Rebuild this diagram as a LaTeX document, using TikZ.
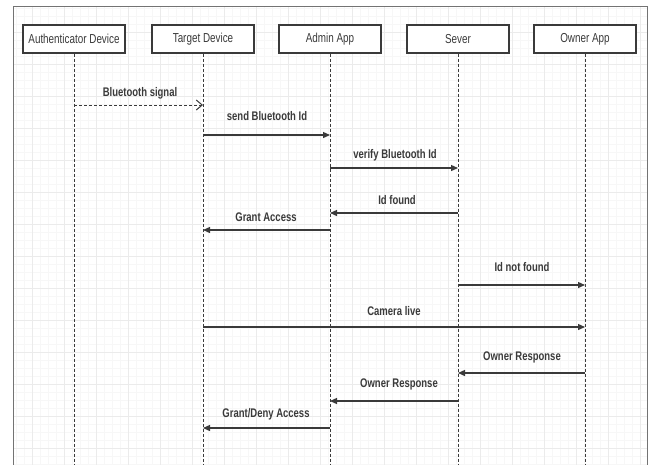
\documentclass[tikz,border=0pt]{standalone}
\usepackage{fontspec}
\setmainfont{Liberation Sans}
\newfontfamily\narrowfont[FakeStretch=0.76]{Liberation Sans}
\usetikzlibrary{arrows.meta}
\definecolor{ink}{HTML}{3A3A3A}
\tikzset{
  x=1pt, y=-1pt,
  header/.style={draw=ink, line width=1.4pt, fill=white, minimum width=102pt, minimum height=28pt,
     font=\narrowfont\fontsize{13}{15}\selectfont, text=ink, inner sep=0pt},
  lifeline/.style={draw=ink, dashed, dash pattern=on 3pt off 2pt, line width=0.8pt},
  msg/.style={draw=ink, line width=1.3pt, -{Triangle[length=7pt,width=6pt]}},
  dmsg/.style={draw=ink, line width=1pt, dash pattern=on 3pt off 2pt, -{Straight Barb[length=6pt,width=10pt,line width=1pt]}},
  lbl/.style={font=\narrowfont\bfseries\fontsize{12.5}{14}\selectfont, text=ink, inner sep=0pt},
}
\begin{document}
\begin{tikzpicture}
\useasboundingbox (0,0) rectangle (648,464);
\fill[white] (0,0) rectangle (648,464);
% grid
\begin{scope}
\clip (13,6) rectangle (647,470);
\draw[black!3, line width=0.5pt, step=8pt] (13,-10) grid (660,480);
\draw[black!8, line width=0.6pt, step=32pt] (13,-10) grid (660,480);
\end{scope}
\draw[black!55, line width=0.8pt] (13,470) -- (13,6) -- (647,6) -- (647,470);

% headers
\node[header] (auth) at (74,39) {Authenticator Device};
\node[header] (target) at (203,39) {Target Device};
\node[header] (admin) at (330,39) {Admin App};
\node[header] (server) at (458,39) {Sever};
\node[header] (owner) at (585,39) {Owner App};

% lifelines
\foreach \n in {auth,target,admin,server,owner}{
  \coordinate (\n-end) at (\n.south |- 0,464);
  \draw[lifeline] (\n.south) -- (\n-end);
}

% message anchor points
\foreach \n/\y/\k in {auth/105/a1, target/105/t1,
  target/135/t2, admin/135/a2,
  admin/168/a3, server/168/s3,
  server/213/s4, admin/213/a4,
  admin/230/a5, target/230/t5,
  server/285/s6, owner/285/o6,
  target/327/t7, owner/327/o7,
  owner/373/o8, server/373/s8,
  server/401/s9, admin/401/a9,
  admin/428/a10, target/428/t10}{
  \coordinate (\k) at (\n.south |- 0,\y);
}

\draw[dmsg] (a1) -- (t1);
\node[lbl] (l1) at (140,93) {Bluetooth signal};

\draw[msg] (t2) -- (a2);
\node[lbl] (l2) at (267,116) {send Bluetooth Id};

\draw[msg] (a3) -- (s3);
\node[lbl] (l3) at (395,155) {verify Bluetooth Id};

\draw[msg] (s4) -- (a4);
\node[lbl] (l4) at (397,200) {Id found};

\draw[msg] (a5) -- (t5);
\node[lbl] (l5) at (266,217) {Grant Access};

\draw[msg] (s6) -- (o6);
\node[lbl] (l6) at (522,267) {Id not found};

\draw[msg] (t7) -- (o7);
\node[lbl] (l7) at (394,311) {Camera live};

\draw[msg] (o8) -- (s8);
\node[lbl] (l8) at (522,357) {Owner Response};

\draw[msg] (s9) -- (a9);
\node[lbl] (l9) at (399,384) {Owner Response};

\draw[msg] (a10) -- (t10);
\node[lbl] (l10) at (266,414) {Grant/Deny Access};
\end{tikzpicture}
\end{document}
